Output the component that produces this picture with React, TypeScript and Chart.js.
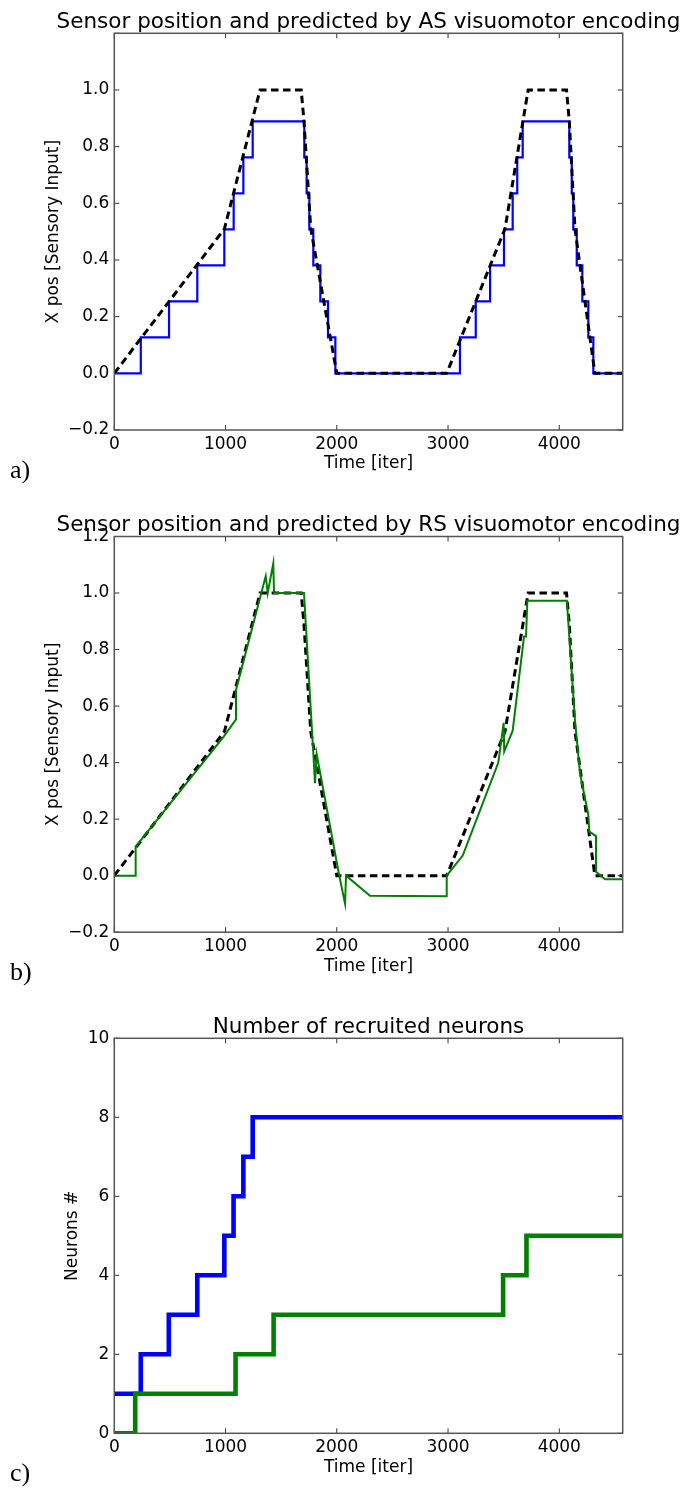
import React, { useEffect, useRef } from "react";
import { Chart, registerables } from "chart.js";

Chart.register(...registerables);

const FONT = "'DejaVu Sans', 'Noto Sans', sans-serif";

// ---- axes ----
const xTicks = [0, 1000, 2000, 3000, 4000];
const xMax = 4570;
const posTicks = [-0.2, 0.0, 0.2, 0.4, 0.6, 0.8, 1.0, 1.2];
const neuronTicks = [0, 2, 4, 6, 8, 10];

// ---- desired sensor position (black dashed, panels a and b) ----
const targetIter = [0, 990, 1310, 1680, 1705, 1766, 2000, 2988, 3512, 3720, 4065, 4090, 4141, 4320, 4570];
const targetPos = [0, 0.51, 1.0, 1.0, 0.89, 0.51, 0, 0, 0.51, 1.0, 1.0, 0.89, 0.51, 0, 0];

// ---- AS visuomotor prediction (blue, stepped) ----
const asIter = [0, 238, 492, 746, 989, 1073, 1160, 1244, 1708, 1729, 1753, 1789, 1852, 1921, 1987,
  3107, 3249, 3378, 3503, 3581, 3622, 3671, 4090, 4112, 4126, 4157, 4207, 4261, 4306, 4570];
const asPos = [0, 0.127, 0.254, 0.381, 0.508, 0.635, 0.762, 0.889, 0.762, 0.635, 0.508, 0.381, 0.254, 0.127, 0,
  0.127, 0.254, 0.381, 0.508, 0.635, 0.762, 0.889, 0.762, 0.635, 0.508, 0.381, 0.254, 0.127, 0, 0];

// ---- RS visuomotor prediction (green) ----
const rsIter = [0, 192, 192, 980, 1094, 1094, 1361, 1379, 1429, 1436, 1705, 1789, 1804, 1819, 2022, 2074, 2083,
  2298, 2988, 2988, 3132, 3452, 3500, 3505, 3581, 3683, 3701, 3713, 4068, 4141, 4186, 4261, 4270, 4330, 4330, 4411, 4570];
const rsPos = [0, 0, 0.103, 0.49, 0.553, 0.657, 1.06, 1.0, 1.105, 1.0, 1.0, 0.433, 0.327, 0.43, 0, -0.099, 0,
  -0.071, -0.073, 0, 0.071, 0.40, 0.541, 0.44, 0.513, 0.846, 0.846, 0.973, 0.973, 0.55, 0.362, 0.215, 0.156, 0.14, 0.014, -0.013, -0.013];

// ---- recruited neurons (stepped) ----
const asNeuronIter = [0, 238, 490, 746, 989, 1072, 1160, 1244, 4570];
const asNeurons = [1, 2, 3, 4, 5, 6, 7, 8, 8];
const rsNeuronIter = [0, 188, 1090, 1432, 3495, 3705, 4570];
const rsNeurons = [0, 1, 2, 3, 4, 5, 5];

const pts = (xs: number[], ys: number[]) => xs.map((x, i) => ({ x, y: ys[i] }));
const fmtPos = (v: number) => (v < 0 ? "\u2212" : "") + Math.abs(v).toFixed(1);

const framePlugin = {
  id: "mplFrame",
  afterDatasetsDraw(chart: any, _args: any, opts: any) {
    const { ctx, chartArea: a, scales } = chart;
    ctx.save();
    ctx.strokeStyle = "#333";
    ctx.lineWidth = 1;
    const tl = 5;
    ctx.beginPath();
    for (const t of scales.x.ticks) {
      const px = scales.x.getPixelForValue(t.value);
      ctx.moveTo(px, a.bottom);
      ctx.lineTo(px, a.bottom - tl);
      ctx.moveTo(px, a.top);
      ctx.lineTo(px, a.top + tl);
    }
    for (const t of scales.y.ticks) {
      const py = scales.y.getPixelForValue(t.value);
      ctx.moveTo(a.left, py);
      ctx.lineTo(a.left + tl, py);
      ctx.moveTo(a.right, py);
      ctx.lineTo(a.right - tl, py);
    }
    ctx.stroke();
    ctx.strokeStyle = "#555";
    ctx.lineWidth = 1.5;
    ctx.strokeRect(a.left, a.top, a.right - a.left, a.bottom - a.top);
    if (opts && opts.text) {
      ctx.fillStyle = "#000";
      ctx.font = `21.5px ${FONT}`;
      ctx.textAlign = "center";
      ctx.textBaseline = "alphabetic";
      ctx.fillText(opts.text, (a.left + a.right) / 2, a.top - 5.5);
    }
    ctx.restore();
  },
};

type Cfg = {
  height: number;
  plotTop: number;
  plotBottom: number;
  datasets: any[];
  yMin: number;
  yMax: number;
  yTicks: number[];
  yFmt: (v: number) => string;
  yTitle: string;
  yTitleCenter: number;
  title: string;
};

function makeConfig(c: Cfg): any {
  const xH = c.height - c.plotBottom;
  return {
    type: "line",
    data: { datasets: c.datasets },
    options: {
      animation: false,
      responsive: false,
      devicePixelRatio: 1,
      layout: { padding: { left: 0, right: 684 - 622.7, top: c.plotTop, bottom: 0 } },
      elements: { point: { radius: 0 }, line: { tension: 0 } },
      plugins: {
        legend: { display: false },
        tooltip: { enabled: false },
        mplFrame: { text: c.title },
      },
      scales: {
        x: {
          type: "linear",
          min: 0,
          max: xMax,
          afterBuildTicks: (s: any) => {
            s.ticks = xTicks.map((v) => ({ value: v }));
          },
          afterFit: (s: any) => {
            s.height = xH;
            s.paddingLeft = 0;
            s.paddingRight = 0;
          },
          grid: { display: false, drawTicks: false },
          border: { display: false },
          ticks: {
            color: "#000",
            font: { family: FONT, size: 17 },
            padding: 4,
            maxRotation: 0,
            autoSkip: false,
            callback: (v: any) => String(v),
          },
          title: {
            display: true,
            text: "Time [iter]",
            color: "#000",
            font: { family: FONT, size: 17 },
            padding: { top: 0, bottom: xH - 34 - 10.2 },
          },
        },
        y: {
          type: "linear",
          min: c.yMin,
          max: c.yMax,
          afterBuildTicks: (s: any) => {
            s.ticks = c.yTicks.map((v) => ({ value: v }));
          },
          afterFit: (s: any) => {
            s.width = 114.3;
            s.paddingTop = 0;
            s.paddingBottom = 0;
          },
          grid: { display: false, drawTicks: false },
          border: { display: false },
          ticks: {
            color: "#000",
            font: { family: FONT, size: 17 },
            padding: 5,
            autoSkip: false,
            callback: (v: any) => c.yFmt(Number(v)),
          },
          title: {
            display: true,
            text: c.yTitle,
            color: "#000",
            font: { family: FONT, size: 17 },
            padding: { top: c.yTitleCenter - 10.2, bottom: 0 },
          },
        },
      },
    },
    plugins: [framePlugin],
  };
}

const dashed = () => ({
  data: pts(targetIter, targetPos),
  borderColor: "#000000",
  borderWidth: 3,
  borderDash: [7.5, 4.5],
  pointRadius: 0,
  fill: false,
});

function ChartCanvas({ top, height, config }: { top: number; height: number; config: any }) {
  const ref = useRef<HTMLCanvasElement | null>(null);
  useEffect(() => {
    if (!ref.current) return;
    const chart = new Chart(ref.current, config);
    return () => chart.destroy();
  }, []);
  return (
    <canvas
      ref={ref}
      width={684}
      height={height}
      style={{ position: "absolute", left: 0, top, width: 684, height }}
    />
  );
}

const panelLabel = (text: string, top: number) => (
  <div
    style={{
      position: "absolute",
      left: 10,
      top,
      fontFamily: "'Liberation Serif', 'Times New Roman', serif",
      fontSize: 26,
      lineHeight: 1,
      color: "#000",
    }}
  >
    {text}
  </div>
);

export default function App() {
  const cfgA = makeConfig({
    height: 500,
    plotTop: 33.3,
    plotBottom: 430,
    datasets: [
      dashed(),
      {
        data: pts(asIter, asPos),
        borderColor: "#0000ff",
        borderWidth: 2.2,
        stepped: "before",
        pointRadius: 0,
        fill: false,
      },
    ],
    yMin: -0.2,
    yMax: 1.2,
    yTicks: posTicks,
    yFmt: (v) => (v > 1.1 ? "" : fmtPos(v)),
    yTitle: "X pos [Sensory Input]",
    yTitleCenter: 53.5,
    title: "Sensor position and predicted by AS visuomotor encoding",
  });
  const cfgB = makeConfig({
    height: 500,
    plotTop: 36.5,
    plotBottom: 432.2,
    datasets: [
      {
        data: pts(rsIter, rsPos),
        borderColor: "#008000",
        borderWidth: 2,
        pointRadius: 0,
        fill: false,
      },
      dashed(),
    ],
    yMin: -0.2,
    yMax: 1.2,
    yTicks: posTicks,
    yFmt: fmtPos,
    yTitle: "X pos [Sensory Input]",
    yTitleCenter: 53.5,
    title: "Sensor position and predicted by RS visuomotor encoding",
  });
  const cfgC = makeConfig({
    height: 488,
    plotTop: 38.3,
    plotBottom: 433.3,
    datasets: [
      {
        data: pts(rsNeuronIter, rsNeurons),
        borderColor: "#008000",
        borderWidth: 4.6,
        stepped: "before",
        pointRadius: 0,
        fill: false,
      },
      {
        data: pts(asNeuronIter, asNeurons),
        borderColor: "#0000ff",
        borderWidth: 4.6,
        stepped: "before",
        pointRadius: 0,
        fill: false,
      },
    ],
    yMin: 0,
    yMax: 10,
    yTicks: neuronTicks,
    yFmt: (v) => String(Math.round(v)),
    yTitle: "Neurons #",
    yTitleCenter: 73,
    title: "Number of recruited neurons",
  });

  return (
    <div
      style={{
        position: "absolute",
        left: 0,
        top: 0,
        width: 684,
        height: 1488,
        background: "#fff",
        overflow: "hidden",
      }}
    >
      <ChartCanvas top={0} height={500} config={cfgA} />
      <ChartCanvas top={500} height={500} config={cfgB} />
      <ChartCanvas top={1000} height={488} config={cfgC} />
      {panelLabel("a)", 457)}
      {panelLabel("b)", 959)}
      {panelLabel("c)", 1460)}
    </div>
  );
}
